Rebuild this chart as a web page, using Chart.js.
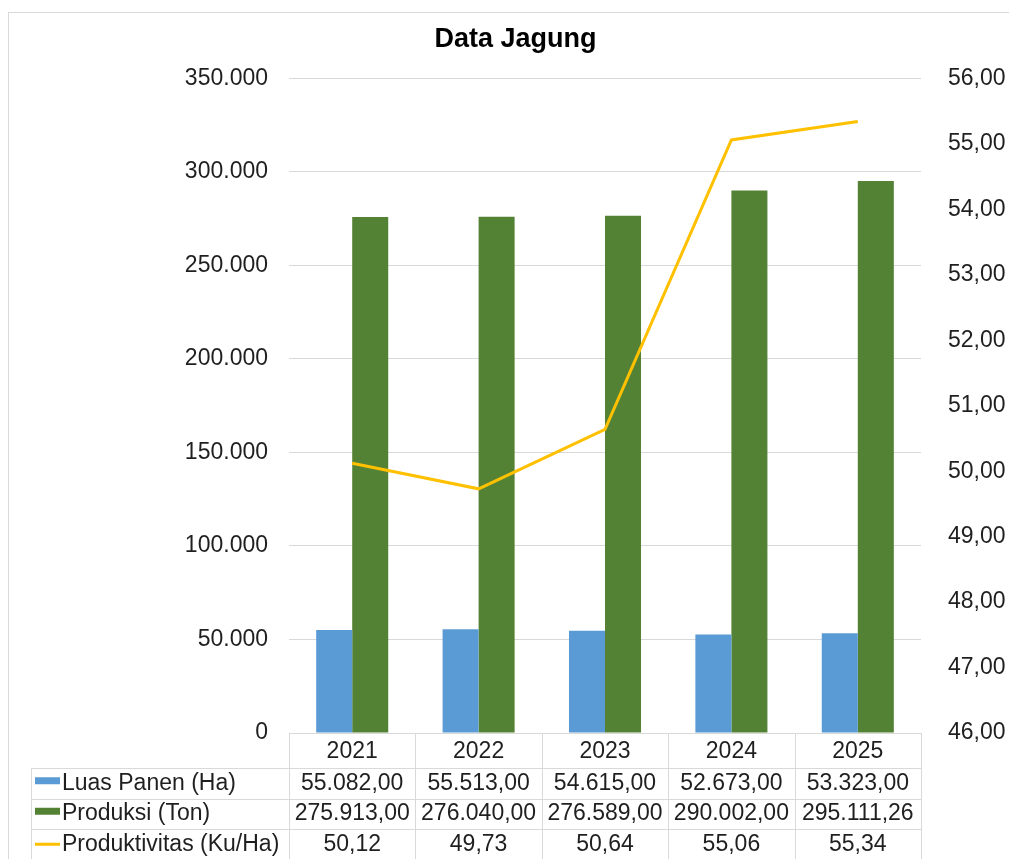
<!DOCTYPE html>
<html>
<head>
<meta charset="utf-8">
<script src="https://cdn.jsdelivr.net/npm/chart.js@4.4.1/dist/chart.umd.min.js"></script>
<style>
    body { margin: 0; background: #fff; }
    canvas { display: block; }
</style>
</head>
<body>
<canvas id="jagungChart" width="1009" height="859"></canvas>
<script>
const YEARS = ['2021', '2022', '2023', '2024', '2025'];
const LUAS_PANEN = [55082.00, 55513.00, 54615.00, 52673.00, 53323.00];
const PRODUKSI = [275913.00, 276040.00, 276589.00, 290002.00, 295111.26];
const PRODUKTIVITAS = [50.12, 49.73, 50.64, 55.06, 55.34];
const SERIES_NAMES = ['Luas Panen (Ha)', 'Produksi (Ton)', 'Produktivitas (Ku/Ha)'];

const COLORS = {
    blue: '#5b9bd5',
    green: '#548235',
    gold: '#ffc000',
    grid: '#d9d9d9',
    text: '#1f1f1f'
};
const FONT = "'Liberation Sans', Arial, sans-serif";

// 1234567.5 -> "1.234.567,50"
function formatId(value, decimals) {
    const parts = value.toFixed(decimals).split('.');
    const intPart = parts[0].replace(/\B(?=(\d{3})+(?!\d))/g, '.');
    return parts.length > 1 ? intPart + ',' + parts[1] : intPart;
}

// data table under the plot (Excel style), drawn from the x scale
const dataTablePlugin = {
    id: 'dataTable',
    beforeDraw(chart) {
        const ctx = chart.ctx;
        ctx.save();
        ctx.strokeStyle = COLORS.grid;
        ctx.lineWidth = 1;
        ctx.strokeRect(8.5, 12.5, 1200, 1000);
        ctx.restore();
    },
    afterDraw(chart) {
        const ctx = chart.ctx;
        const x = chart.scales.x;
        const top = chart.chartArea.bottom;
        const headerBottom = top + 35;
        const rowH = 30.5;
        const tableLeft = 31;
        const colW = (x.right - x.left) / YEARS.length;

        ctx.save();
        ctx.strokeStyle = COLORS.grid;
        ctx.lineWidth = 1;
        ctx.beginPath();
        // header row
        ctx.moveTo(x.left, Math.round(top) + 0.5);
        ctx.lineTo(x.right, Math.round(top) + 0.5);
        for (let i = 0; i <= YEARS.length; i++) {
            const cx = Math.round(x.left + i * colW) + 0.5;
            ctx.moveTo(cx, top);
            ctx.lineTo(cx, chart.height);
        }
        // series rows
        for (let r = 0; r < 3; r++) {
            const y = Math.round(headerBottom + r * rowH) + 0.5;
            ctx.moveTo(tableLeft, y);
            ctx.lineTo(x.right, y);
        }
        ctx.moveTo(tableLeft + 0.5, headerBottom);
        ctx.lineTo(tableLeft + 0.5, chart.height);
        ctx.stroke();

        const rows = [
            { values: LUAS_PANEN, dec: 2, color: COLORS.blue, kind: 'box' },
            { values: PRODUKSI, dec: 2, color: COLORS.green, kind: 'box' },
            { values: PRODUKTIVITAS, dec: 2, color: COLORS.gold, kind: 'line' }
        ];
        ctx.font = '23px ' + FONT;
        ctx.fillStyle = COLORS.text;
        ctx.textBaseline = 'middle';
        rows.forEach((row, r) => {
            const cy = headerBottom + r * rowH + rowH / 2;
            // legend key
            ctx.fillStyle = row.color;
            if (row.kind === 'box') {
                ctx.fillRect(35, cy - 6, 25, 7);
            } else {
                ctx.fillRect(35, cy - 1.5, 25, 3);
            }
            ctx.fillStyle = COLORS.text;
            ctx.textAlign = 'left';
            ctx.fillText(SERIES_NAMES[r], 62, cy);
            ctx.textAlign = 'center';
            row.values.forEach((v, i) => {
                ctx.fillText(formatId(v, row.dec), x.getPixelForValue(i), cy);
            });
        });
        ctx.restore();
    }
};

new Chart(document.getElementById('jagungChart'), {
    type: 'bar',
    data: {
        labels: YEARS,
        datasets: [
            {
                label: SERIES_NAMES[0],
                data: LUAS_PANEN,
                backgroundColor: COLORS.blue,
                yAxisID: 'y',
                order: 1
            },
            {
                label: SERIES_NAMES[1],
                data: PRODUKSI,
                backgroundColor: COLORS.green,
                yAxisID: 'y',
                order: 1
            },
            {
                type: 'line',
                label: SERIES_NAMES[2],
                data: PRODUKTIVITAS,
                borderColor: COLORS.gold,
                backgroundColor: COLORS.gold,
                borderWidth: 3,
                pointRadius: 0,
                tension: 0,
                yAxisID: 'y1',
                order: 0
            }
        ]
    },
    options: {
        responsive: false,
        animation: false,
        devicePixelRatio: 1,
        layout: { padding: { left: 22, right: 0, top: 0, bottom: 0 } },
        datasets: {
            bar: { categoryPercentage: 0.57, barPercentage: 1 }
        },
        plugins: {
            legend: { display: false },
            tooltip: { enabled: false },
            title: {
                display: true,
                text: 'Data Jagung',
                color: '#000',
                font: { family: FONT, size: 27, weight: 'bold', lineHeight: 1.2 },
                padding: { top: 23, bottom: 23 }
            }
        },
        scales: {
            x: {
                grid: { display: false, drawTicks: false },
                border: { display: false },
                ticks: {
                    color: COLORS.text,
                    font: { family: FONT, size: 23 },
                    padding: 5,
                    maxRotation: 0
                },
                afterFit(scale) { scale.height = 126; }
            },
            y: {
                position: 'left',
                min: 0,
                max: 350000,
                grid: { color: COLORS.grid, drawTicks: false },
                border: { display: false },
                ticks: {
                    stepSize: 50000,
                    color: COLORS.text,
                    font: { family: FONT, size: 23 },
                    padding: 21,
                    callback: (v) => formatId(v, 0)
                },
                afterFit(scale) { scale.width = 267; }
            },
            y1: {
                position: 'right',
                min: 46,
                max: 56,
                grid: { display: false, drawTicks: false },
                border: { display: false },
                ticks: {
                    stepSize: 1,
                    color: COLORS.text,
                    font: { family: FONT, size: 23 },
                    padding: 27,
                    callback: (v) => formatId(v, 2)
                },
                afterFit(scale) { scale.width = 88; }
            }
        }
    },
    plugins: [dataTablePlugin]
});
</script>
</body>
</html>
